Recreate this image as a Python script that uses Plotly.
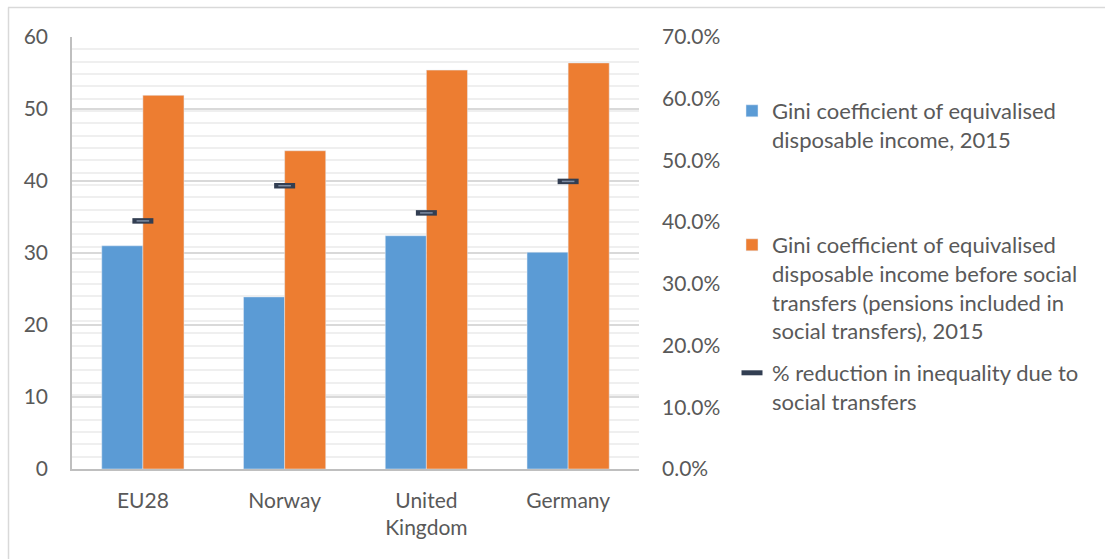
import plotly.graph_objects as go

# Gini coefficients (0-100 scale) and the resulting reduction from social transfers
countries = ["EU28", "Norway", "United<br>Kingdom", "Germany"]
gini_after = [31.0, 23.9, 32.4, 30.1]
gini_before = [51.9, 44.2, 55.4, 56.4]
reduction = [0.402, 0.459, 0.415, 0.466]

left_ticks = [0, 10, 20, 30, 40, 50, 60]
right_ticks = [0.0, 0.1, 0.2, 0.3, 0.4, 0.5, 0.6, 0.7]

names = [
    "Gini coefficient of equivalised<br>disposable income, 2015",
    "Gini coefficient of equivalised<br>disposable income before social<br>transfers (pensions included in<br>social transfers), 2015",
    "% reduction in inequality due to<br>social transfers",
]

W, H = 1105, 559
ML, MR, MT, MB = 72, 466, 37, 90
FONT = "Lato, 'Open Sans', sans-serif"
TXT = "#595959"
FS = 21
LFS = 22

fig = go.Figure()
fig.add_trace(go.Bar(x=countries, y=gini_after, name=names[0], marker_color="#5B9BD5",
                     legend="legend"))
fig.add_trace(go.Bar(x=countries, y=gini_before, name=names[1], marker_color="#ED7D31",
                     legend="legend2"))
# dash markers: dark outer stroke plus a lighter inner stroke
fig.add_trace(go.Scatter(x=countries, y=reduction, yaxis="y2", mode="markers", name=names[2],
                         legend="legend3",
                         marker=dict(symbol="line-ew", size=15, color="#323E52",
                                     line=dict(width=5.5, color="#323E52"))))
fig.add_trace(go.Scatter(x=countries, y=reduction, yaxis="y2", mode="markers", showlegend=False,
                         hoverinfo="skip",
                         marker=dict(symbol="line-ew", size=9, color="#7D8CA3",
                                     line=dict(width=1.5, color="#7D8CA3"))))

pw = W - ML - MR
ph = H - MT - MB
def px_x(p):
    return (p - ML) / pw
def px_y(p):
    return (H - MB - p) / ph

legend_common = dict(font=dict(family=FONT, size=LFS, color=TXT), bgcolor="rgba(0,0,0,0)",
                     xanchor="left", yanchor="top", valign="top", itemwidth=30)

fig.update_layout(
    width=W, height=H,
    margin=dict(l=ML, r=MR, t=MT, b=MB),
    paper_bgcolor="white", plot_bgcolor="white",
    barmode="group", bargap=0.42, bargroupgap=0,
    font=dict(family=FONT, size=FS, color=TXT),
    xaxis=dict(showline=True, linecolor="#bfbfbf", linewidth=1.5, ticks="", tickfont=dict(size=FS),
               ticklabelstandoff=12),
    yaxis=dict(range=[0, 60], tickvals=left_ticks, showgrid=True, gridcolor="#d9d9d9",
               gridwidth=1.5, showline=True, linecolor="#bfbfbf", linewidth=1.5, ticks="",
               ticklabelstandoff=18, zeroline=False),
    yaxis2=dict(range=[0, 0.7], tickvals=right_ticks, tickformat=".1%", overlaying="y",
                side="right", showgrid=True, gridcolor="#efefef", gridwidth=1.5,
                minor=dict(dtick=0.02, showgrid=True, gridcolor="#efefef", gridwidth=1.5),
                showline=False, ticks="", ticklabelstandoff=22, zeroline=False),
    legend=dict(x=px_x(732), y=px_y(90), **legend_common),
    legend2=dict(x=px_x(732), y=px_y(224), **legend_common),
    legend3=dict(x=px_x(732), y=px_y(352), **legend_common),
    shapes=[
        dict(type="line", xref="paper", yref="paper", x0=px_x(8), x1=px_x(W + 5),
             y0=px_y(7.5), y1=px_y(7.5), line=dict(color="#d9d9d9", width=1.5)),
        dict(type="line", xref="paper", yref="paper", x0=px_x(8.5), x1=px_x(8.5),
             y0=px_y(7.5), y1=px_y(H + 5), line=dict(color="#d9d9d9", width=1.5)),
    ],
    showlegend=True,
)

fig.write_html("out.html")
